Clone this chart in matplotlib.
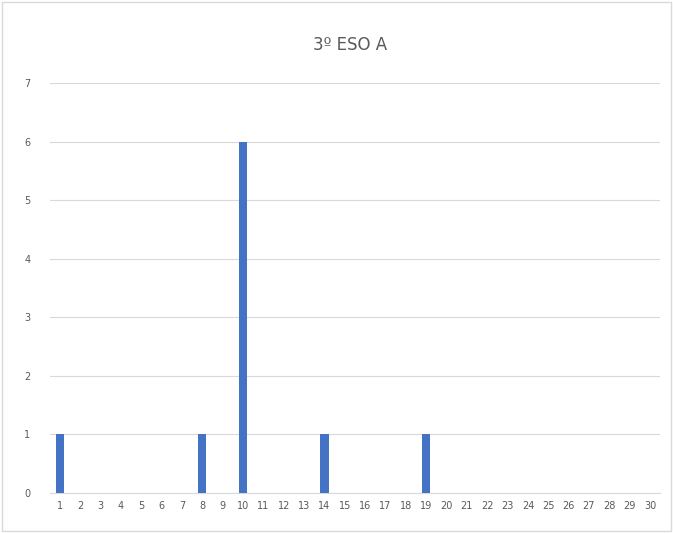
import matplotlib
matplotlib.use("Agg")
import matplotlib.pyplot as plt
import numpy as np

# Datos del grafico
titulo = "3º ESO A"
categorias = [str(i) for i in range(1, 31)]
valores = [0] * 30
for cat, v in [(1, 1), (8, 1), (10, 6), (14, 1), (19, 1)]:
    valores[cat - 1] = v

fig = plt.figure(figsize=(6.73, 5.33), dpi=100)
ax = fig.add_axes([0.074, 0.075, 0.907, 0.769])

x = np.arange(len(categorias))
ax.bar(x, valores, width=0.4, color="#4472C4", zorder=3)

ax.set_xlim(-0.5, len(categorias) - 0.5)
ax.set_ylim(0, 7)
ax.set_yticks(range(0, 8))
ax.set_xticks(x)
ax.set_xticklabels(categorias, fontsize=7, color="#595959")
ax.tick_params(axis="y", labelsize=7, labelcolor="#595959", length=0, pad=14)
ax.tick_params(axis="x", length=0, pad=6)

ax.grid(axis="y", color="#D9D9D9", linewidth=0.8, zorder=0)
for s in ["top", "right", "left"]:
    ax.spines[s].set_visible(False)
ax.spines["bottom"].set_color("#D9D9D9")

fig.text(0.52, 0.915, titulo, ha="center", va="center", fontsize=12, color="#595959")

# borde del area del grafico
borde = plt.Rectangle((0.003, 0.003), 0.994, 0.994, transform=fig.transFigure,
                      fill=False, edgecolor="#D9D9D9", linewidth=1)
fig.patches.append(borde)

fig.savefig("out.png", dpi=100)
